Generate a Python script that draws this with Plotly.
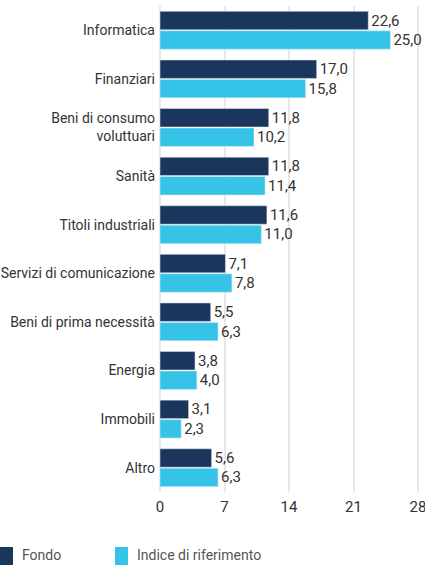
import plotly.graph_objects as go

categories = ["Informatica", "Finanziari", "Beni di consumo<br>voluttuari", "Sanità",
              "Titoli industriali", "Servizi di comunicazione", "Beni di prima necessità",
              "Energia", "Immobili", "Altro"]
fondo = [22.6, 17.0, 11.8, 11.8, 11.6, 7.1, 5.5, 3.8, 3.1, 5.6]
indice = [25.0, 15.8, 10.2, 11.4, 11.0, 7.8, 6.3, 4.0, 2.3, 6.3]
x_ticks = [0, 7, 14, 21, 28]
series_names = ["Fondo", "Indice di riferimento"]

DARK = "#1b365d"
CYAN = "#35c4e8"
FONT = "Roboto, Liberation Sans, sans-serif"
FS = 14

def fmt(v):
    return f"{v:.1f}".replace(".", ",")

fig = go.Figure()
fig.add_trace(go.Bar(y=categories, x=fondo, orientation="h", name=series_names[0],
                     marker_color=DARK, text=[fmt(v) for v in fondo],
                     textposition="outside", cliponaxis=False, constraintext="none",
                     textfont=dict(family=FONT, size=15, color="#333333"),
                     showlegend=False))
fig.add_trace(go.Bar(y=categories, x=indice, orientation="h", name=series_names[1],
                     marker_color=CYAN, text=[fmt(v) for v in indice],
                     textposition="outside", cliponaxis=False, constraintext="none",
                     textfont=dict(family=FONT, size=15, color="#333333"),
                     showlegend=False))

# manual legend
legend_items = [(0, DARK, series_names[0]), (115, CYAN, series_names[1])]
L, R, T, B = 160, 3, 6, 73
W, H = 425, 565
pw, ph = W - L - R, H - T - B
for px, col, name in legend_items:
    fig.add_shape(type="rect", xref="paper", yref="paper",
                  x0=(px - L) / pw, x1=(px + 13 - L) / pw,
                  y0=(H - B - 565) / ph, y1=(H - B - 547) / ph,
                  fillcolor=col, line_width=0, layer="above")
    fig.add_annotation(xref="paper", yref="paper", x=(px + 20 - L) / pw,
                       y=(H - B - 555) / ph, text=name, showarrow=False,
                       xanchor="left", yanchor="middle",
                       font=dict(family=FONT, size=FS, color="#555555"))

fig.update_layout(
    barmode="group", bargap=0.2, bargroupgap=0.05,
    width=W, height=H,
    margin=dict(l=L, r=R, t=T, b=B, autoexpand=False),
    paper_bgcolor="white", plot_bgcolor="white",
    font=dict(family=FONT, size=FS, color="#333333"),
    showlegend=False,
    xaxis=dict(range=[0, 28.43], tickvals=x_ticks, ticktext=[str(t) for t in x_ticks],
               showgrid=True, gridcolor="#e8e8e8", gridwidth=2,
               zeroline=True, zerolinecolor="#e8e8e8", zerolinewidth=2,
               showline=False, ticks="", ticklabeloverflow="allow",
               ticklabelstandoff=4,
               tickfont=dict(size=15, color="#333333")),
    yaxis=dict(autorange="reversed", showgrid=False, showline=False, ticks="",
               ticklabelstandoff=4, tickfont=dict(size=FS, color="#333333")),
)

fig.write_html("out.html", config={"displayModeBar": False},
               post_script="document.body.style.margin='0';document.body.style.overflow='hidden';")
